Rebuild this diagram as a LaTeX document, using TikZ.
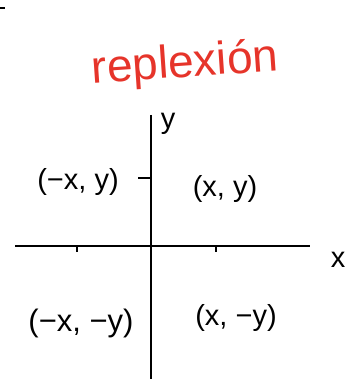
\documentclass[tikz,border=0pt]{standalone}
\usepackage{fontspec}
\setmainfont{Liberation Sans}
\usetikzlibrary{positioning}
\definecolor{inkred}{RGB}{230,52,42}

\begin{document}
\begin{tikzpicture}[x=1pt, y=-1pt,
    axis/.style={line width=1.6pt, black},
    tick/.style={line width=1.4pt, black},
    pointlabel/.style={font=\fontsize{29}{31}\selectfont, inner sep=0pt},
    title/.style={font=\fontsize{46}{48}\selectfont, text=inkred, inner sep=0pt}]
    \useasboundingbox (0,0) rectangle (359,379);
    % stray mark
    \draw[tick] (0,8) -- (5,8);
    % title
    \node[title, anchor=base, rotate=4] (ttl) at (186,77) {replexión};
    % axes
    \coordinate (xl) at (15,246);
    \coordinate (xr) at (310,246);
    \coordinate (yt) at (151,115);
    \coordinate (yb) at (151,379);
    \draw[axis] (xl) -- (xr);
    \draw[axis] (yt) -- (yb);
    \node[pointlabel] (xlab) at (338,260) {x};
    \node[pointlabel] (ylab) at (168,124) {y};
    % ticks
    \coordinate (ty) at (151,178);
    \coordinate (txl) at (77,246);
    \coordinate (txr) at (216,246);
    \draw[tick] (ty) -- ++(-13,0);
    \draw[tick] (txl) -- ++(0,6);
    \draw[tick] (txr) -- ++(0,6);
    % quadrant points
    \node[pointlabel] (q2) at (78,182) {(−x, y)};
    \node[pointlabel] (q1) at (225,189) {(x, y)};
    \node[pointlabel, font=\fontsize{31}{33}\selectfont] (q3) at (81,323) {(−x, −y)};
    \node[pointlabel] (q4) at (236,318) {(x, −y)};
\end{tikzpicture}
\end{document}
